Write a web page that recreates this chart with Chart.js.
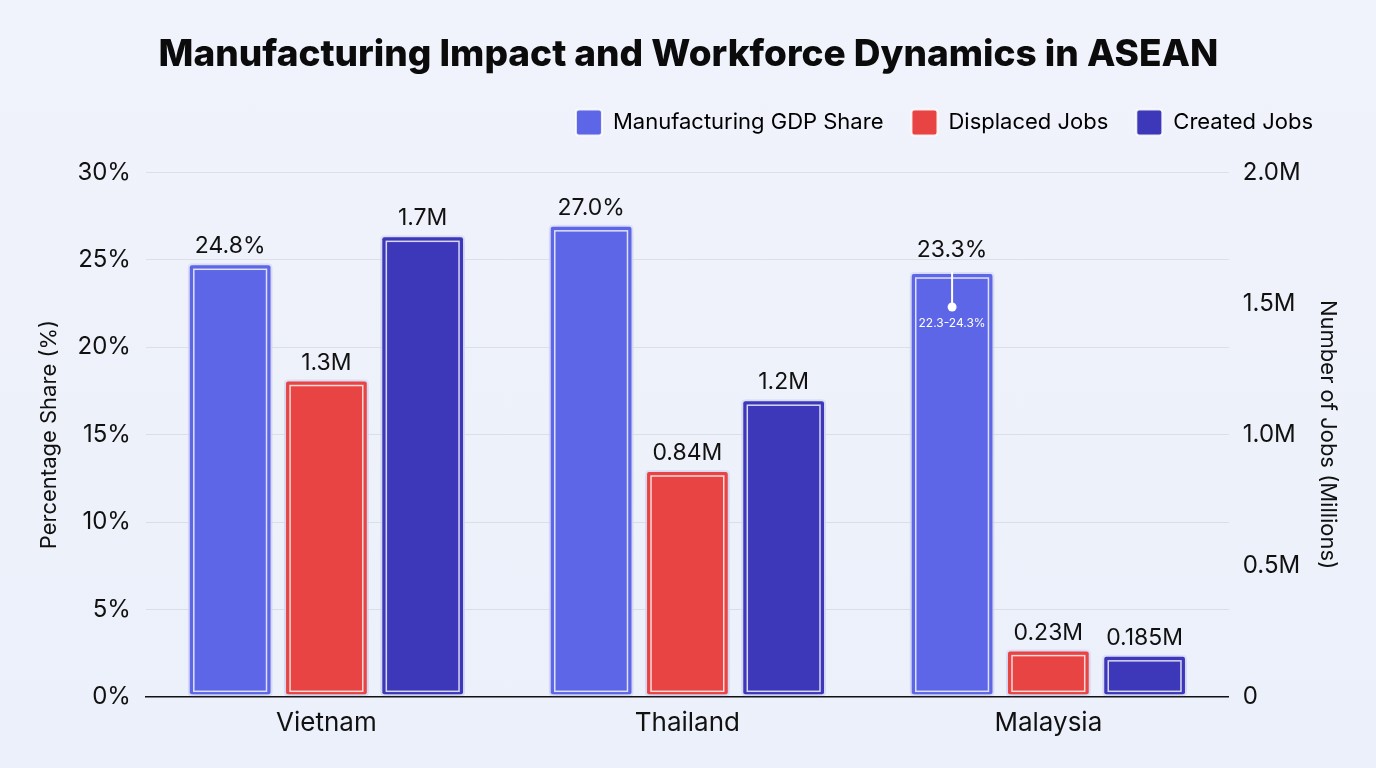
<!DOCTYPE html>
<html>
<head>
<meta charset="utf-8">
<script src="https://cdn.jsdelivr.net/npm/chart.js@4.4.1/dist/chart.umd.min.js"></script>
<style>
  html, body { margin: 0; padding: 0; background: #EEF2FA; }
  #wrap { width: 1376px; height: 768px; position: relative; background: linear-gradient(180deg, #F0F3FB 0%, #ECF0FA 100%); }
  canvas { display: block; }
</style>
</head>
<body>
<div id="wrap"><canvas id="c" width="1376" height="768"></canvas></div>
<script>
// ---- data ----
const categories = ['Vietnam', 'Thailand', 'Malaysia'];
const gdpShare = [24.8, 27.0, 24.3];            // bar heights (%)
const gdpLabels = ['24.8%', '27.0%', '23.3%'];
const displacedJobs = [1.21, 0.865, 0.18];      // millions
const displacedLabels = ['1.3M', '0.84M', '0.23M'];
const createdJobs = [1.76, 1.135, 0.16];        // millions
const createdLabels = ['1.7M', '1.2M', '0.185M'];
const gdpRangeLow = [null, null, 22.3];
const gdpRangeHigh = [null, null, 24.3];
const gdpRangeText = [null, null, '22.3-24.3%'];
const seriesNames = ['Manufacturing GDP Share', 'Displaced Jobs', 'Created Jobs'];

const FONT = 'Inter, "Noto Sans", "DejaVu Sans", sans-serif';
const colGdp = '#5D66E6';
const colDisp = '#E84444';
const colCreated = '#3D38BA';
const labelSets = [gdpLabels, displacedLabels, createdLabels];

const legendGap = {
  id: 'legendGap',
  afterInit(chart) {
    const lg = chart.legend;
    if (!lg) return;
    const fit = lg.fit;
    lg.fit = function () { fit.call(this); this.height += 27; };
  }
};

const barDecor = {
  id: 'barDecor',
  beforeDatasetsDraw(chart) {
    const ctx = chart.ctx;
    ctx.save();
    ctx.shadowColor = 'rgba(40,40,90,0.18)';
    ctx.shadowBlur = 8;
    ctx.shadowOffsetY = 2;
  },
  afterDatasetsDraw(chart) {
    const ctx = chart.ctx;
    ctx.restore();
    ctx.save();
    chart.data.datasets.forEach((ds, di) => {
      const meta = chart.getDatasetMeta(di);
      meta.data.forEach((el, i) => {
        const p = el.getProps(['x', 'y', 'base', 'width'], true);
        const left = p.x - p.width / 2, top = Math.min(p.y, p.base), bottom = Math.max(p.y, p.base);
        ctx.strokeStyle = 'rgba(255,255,255,0.8)';
        ctx.lineWidth = 1.5;
        ctx.strokeRect(left + 6, top + 6, p.width - 12, bottom - top - 11);
        let extra = 0;
        if (di === 0 && gdpRangeLow[i] != null) {
          const ys = chart.scales.y;
          const yHi = ys.getPixelForValue(gdpRangeHigh[i]);
          const yLo = ys.getPixelForValue(gdpRangeLow[i]);
          ctx.strokeStyle = '#ffffff';
          ctx.lineWidth = 2;
          ctx.beginPath();
          ctx.moveTo(p.x, yHi);
          ctx.lineTo(p.x, yLo);
          ctx.stroke();
          ctx.fillStyle = '#ffffff';
          ctx.beginPath();
          ctx.arc(p.x, yLo, 4.5, 0, Math.PI * 2);
          ctx.fill();
          ctx.font = '12px ' + FONT;
          ctx.textAlign = 'center';
          ctx.textBaseline = 'middle';
          ctx.fillText(gdpRangeText[i], p.x, yLo + 16);
          extra = 5;
        }
        ctx.fillStyle = '#111111';
        ctx.font = '23px ' + FONT;
        ctx.textAlign = 'center';
        ctx.textBaseline = 'alphabetic';
        ctx.fillText(labelSets[di][i], p.x, top - 10 - extra);
      });
    });
    ctx.restore();
  }
};

new Chart(document.getElementById('c'), {
  type: 'bar',
  data: {
    labels: categories,
    datasets: [
      { label: seriesNames[0], data: gdpShare, yAxisID: 'y', backgroundColor: colGdp },
      { label: seriesNames[1], data: displacedJobs, yAxisID: 'y1', backgroundColor: colDisp },
      { label: seriesNames[2], data: createdJobs, yAxisID: 'y1', backgroundColor: colCreated }
    ]
  },
  options: {
    responsive: false,
    animation: false,
    devicePixelRatio: 1,
    layout: { padding: { top: 33, left: 36, right: 35, bottom: 26 } },
    datasets: {
      bar: {
        categoryPercentage: 0.8,
        barPercentage: 0.88,
        borderWidth: 2,
        borderColor: 'rgba(225,228,255,0.9)',
        borderRadius: 4,
        borderSkipped: false
      }
    },
    plugins: {
      title: {
        display: true,
        text: 'Manufacturing Impact and Workforce Dynamics in ASEAN',
        color: '#0b0b0b',
        font: { family: FONT, size: 37, weight: '800' },
        padding: { top: 0, bottom: 4 }
      },
      legend: {
        display: true,
        position: 'top',
        align: 'end',
        labels: {
          color: '#1a1a1a',
          font: { family: FONT, size: 22 },
          boxWidth: 26,
          boxHeight: 26,
          padding: 28,
          generateLabels(chart) {
            return chart.data.datasets.map((ds, i) => ({
              text: ds.label,
              fillStyle: ds.backgroundColor,
              strokeStyle: 'rgba(255,255,255,0.85)',
              lineWidth: 2,
              borderRadius: 3,
              datasetIndex: i,
              hidden: false
            }));
          }
        }
      },
      tooltip: { enabled: false }
    },
    scales: {
      x: {
        grid: { display: false },
        border: { display: true, color: '#111111', width: 1.5 },
        ticks: { color: '#111111', font: { family: FONT, size: 26 }, padding: 3 }
      },
      y: {
        position: 'left',
        min: 0, max: 30,
        ticks: {
          stepSize: 5,
          color: '#111111',
          font: { family: FONT, size: 24 },
          padding: 15,
          callback: v => v + '%'
        },
        grid: { color: 'rgba(0,0,0,0.08)', drawTicks: false, lineWidth: 1 },
        border: { display: false },
        title: { display: true, text: 'Percentage Share (%)', color: '#111111', font: { family: FONT, size: 22 }, padding: 0 }
      },
      y1: {
        position: 'right',
        min: 0, max: 2,
        ticks: {
          stepSize: 0.5,
          color: '#111111',
          font: { family: FONT, size: 24 },
          padding: 14,
          callback: v => v === 0 ? '0' : v.toFixed(1) + 'M'
        },
        grid: { drawOnChartArea: false, drawTicks: false },
        border: { display: false },
        title: { display: true, text: 'Number of Jobs (Millions)', color: '#111111', font: { family: FONT, size: 22 }, padding: 0 }
      }
    }
  },
  plugins: [legendGap, barDecor]
});
</script>
</body>
</html>
